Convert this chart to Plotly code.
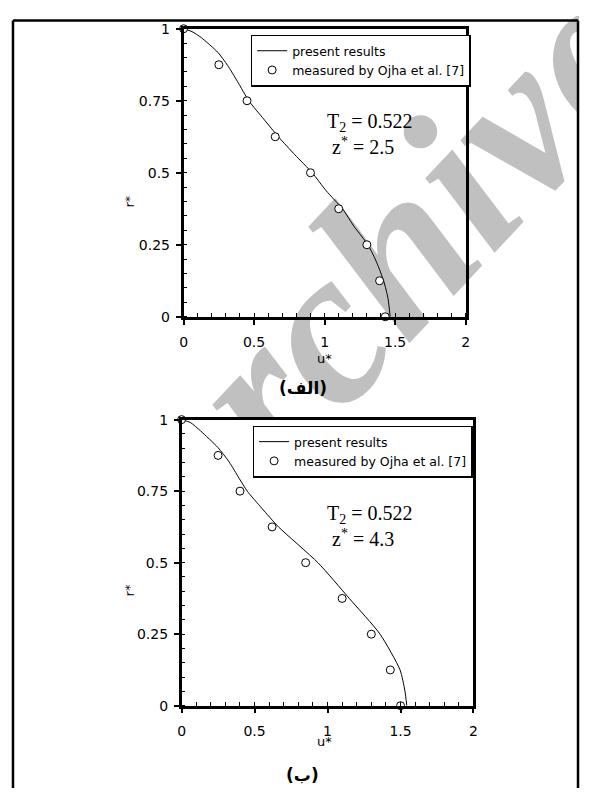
import base64
import plotly.graph_objects as go

# page is 591x804 with the browser's default 8px body margin -> figure 575x788
PAGE_W, PAGE_H = 591, 804
OFF = 8
W, H = PAGE_W - 2 * OFF, PAGE_H - 2 * OFF

# ---------------- data ----------------
r_meas = [1.0, 0.875, 0.75, 0.625, 0.5, 0.375, 0.25, 0.125, 0.0]
u_meas_a = [0.0, 0.25, 0.45, 0.65, 0.90, 1.10, 1.30, 1.39, 1.43]
u_meas_b = [0.0, 0.25, 0.40, 0.62, 0.85, 1.10, 1.30, 1.43, 1.50]

r_curve_a = [1.0, 0.99, 0.969, 0.918, 0.873, 0.817, 0.749, 0.686, 0.624, 0.562,
             0.5, 0.437, 0.374, 0.313, 0.248, 0.188, 0.123, 0.063, 0.0]
u_curve_a = [0.0, 0.06, 0.126, 0.243, 0.312, 0.382, 0.464, 0.569, 0.674, 0.790,
             0.912, 1.012, 1.128, 1.21, 1.31, 1.37, 1.42, 1.45, 1.465]

r_curve_b = [1.0, 0.99, 0.96, 0.903, 0.852, 0.795, 0.75, 0.69, 0.625, 0.5,
             0.375, 0.25, 0.125, 0.052, 0.0]
u_curve_b = [0.0, 0.06, 0.131, 0.248, 0.326, 0.394, 0.45, 0.55, 0.664, 0.934,
             1.149, 1.36, 1.497, 1.53, 1.543]

x_ticks = [0, 0.5, 1, 1.5, 2]
x_ticktext = ["0", "0.5", "1", "1.5", "2"]
y_ticks = [0, 0.25, 0.5, 0.75, 1]
y_ticktext = ["0", "0.25", "0.5", "0.75", "1"]

legend_line = "present results"
legend_meas = "measured by Ojha et al. [7]"
t2_text = "T<sub>2</sub> = 0.522"
z_text_a = "z<sup>*</sup> = 2.5"
z_text_b = "z<sup>*</sup> = 4.3"
cap_a = "(الف)"
cap_b = "(ب)"


def px(x):
    """page pixel x -> paper fraction"""
    return (x - OFF) / W


def py(y):
    """page pixel y -> paper fraction"""
    return 1 - (y - OFF) / H


fig = go.Figure()

panels = [
    dict(u_c=u_curve_a, r_c=r_curve_a, u_m=u_meas_a, xa="x", ya="y", leg="legend"),
    dict(u_c=u_curve_b, r_c=r_curve_b, u_m=u_meas_b, xa="x2", ya="y2", leg="legend2"),
]
for p in panels:
    fig.add_trace(go.Scatter(
        x=p["u_c"], y=p["r_c"], mode="lines", name=legend_line,
        line=dict(color="black", width=1, shape="spline", smoothing=0.6),
        xaxis=p["xa"], yaxis=p["ya"], legend=p["leg"], cliponaxis=False))
    fig.add_trace(go.Scatter(
        x=p["u_m"], y=r_meas, mode="markers", name=legend_meas,
        marker=dict(symbol="circle", size=8, color="white",
                    line=dict(color="black", width=1)),
        xaxis=p["xa"], yaxis=p["ya"], legend=p["leg"], cliponaxis=False))

tickfont = dict(family="DejaVu Sans", size=14, color="black")
common_x = dict(range=[0, 2], tickvals=x_ticks, ticktext=x_ticktext,
                ticks="outside", ticklen=5, tickwidth=1.5, tickcolor="black",
                showline=True, linewidth=2.5, linecolor="black", mirror=True,
                showgrid=False, zeroline=False, tickfont=tickfont,
                ticklabelstandoff=6,
                minor=dict(dtick=0.1, ticks="inside", ticklen=4,
                           tickwidth=1, tickcolor="black", showgrid=False))
common_y = dict(range=[0, 1], tickvals=y_ticks, ticktext=y_ticktext,
                ticks="outside", ticklen=5, tickwidth=1.5, tickcolor="black",
                showline=True, linewidth=2.5, linecolor="black", mirror=True,
                showgrid=False, zeroline=False, tickfont=tickfont,
                ticklabelstandoff=3,
                minor=dict(dtick=0.05, ticks="inside", ticklen=4,
                           tickwidth=1, tickcolor="black", showgrid=False))

legfont = dict(family="DejaVu Sans", size=12.5, color="black")
leg_common = dict(xanchor="left", yanchor="top", bgcolor="white",
                  bordercolor="black", borderwidth=1.5, font=legfont,
                  itemwidth=30, tracegroupgap=0)

# watermark (background image, in page pixel coordinates)
svg = (f'<svg xmlns="http://www.w3.org/2000/svg" width="{W}" height="{H}" '
       f'viewBox="{OFF} {OFF} {W} {H}" preserveAspectRatio="none">'
       '<defs><clipPath id="c"><rect x="195" y="0" width="400" height="419"/>'
       '</clipPath></defs>'
       '<g clip-path="url(#c)">'
       '<text x="0" y="0" transform="translate(178,592) rotate(-47)" '
       'font-family="Liberation Serif" font-style="italic" font-weight="bold" '
       'font-size="225" fill="#c0c0c0">Archive</text></g></svg>')
src = "data:image/svg+xml;base64," + base64.b64encode(svg.encode("utf-8")).decode()

frame = dict(color="black", width=2.5)
fig.update_layout(
    width=W, height=H,
    margin=dict(l=0, r=0, t=0, b=0),
    paper_bgcolor="white", plot_bgcolor="white",
    xaxis=dict(domain=[px(182), px(468)], anchor="y", **common_x),
    yaxis=dict(domain=[py(315), py(21)], anchor="x", **common_y),
    xaxis2=dict(domain=[px(180), px(476)], anchor="y2", **common_x),
    yaxis2=dict(domain=[py(712), py(420)], anchor="x2", **common_y),
    legend=dict(x=px(250), y=py(27), **leg_common),
    legend2=dict(x=px(252), y=py(426), **leg_common),
    images=[dict(source=src, xref="paper", yref="paper", x=0, y=1,
                 sizex=1, sizey=1, xanchor="left", yanchor="top",
                 sizing="stretch", layer="below")],
    shapes=[
        dict(type="line", xref="paper", yref="paper", x0=px(9), x1=px(9),
             y0=0, y1=py(12.7), line=frame),
        dict(type="line", xref="paper", yref="paper", x0=px(9), x1=px(582),
             y0=py(12.7), y1=py(12.7), line=frame),
        dict(type="line", xref="paper", yref="paper", x0=px(582), x1=px(582),
             y0=0, y1=py(12.7), line=frame),
    ],
)

serif = dict(family="Liberation Serif", size=20, color="black")
sans = dict(family="DejaVu Sans", size=13, color="black")
ann = []
for (t2y, zy, ztxt, ry, uy, cap, capy) in [
        (117, 141, z_text_a, 197, 358, cap_a, 388),
        (517, 541, z_text_b, 594, 749, cap_b, 783)]:
    ann.append(dict(text=t2_text, x=px(325), y=py(t2y), xref="paper", yref="paper",
                    xanchor="left", yanchor="middle", showarrow=False, font=serif))
    ann.append(dict(text=ztxt, x=px(330), y=py(zy), xref="paper", yref="paper",
                    xanchor="left", yanchor="middle", showarrow=False, font=serif))
    ann.append(dict(text="r*", x=px(127), y=py(ry), xref="paper", yref="paper",
                    xanchor="center", yanchor="middle",
                    textangle=-90, showarrow=False, font=sans))
    ann.append(dict(text="u*", x=px(325), y=py(uy), xref="paper", yref="paper",
                    xanchor="center", yanchor="middle",
                    showarrow=False, font=sans))
    ann.append(dict(text=f"<b>{cap}</b>", x=px(303), y=py(capy), xref="paper",
                    yref="paper", xanchor="center", yanchor="middle",
                    showarrow=False,
                    font=dict(family="DejaVu Sans", size=17, color="black")))
fig.update_layout(annotations=ann)

fig.write_html("out.html", config={"displayModeBar": False})
